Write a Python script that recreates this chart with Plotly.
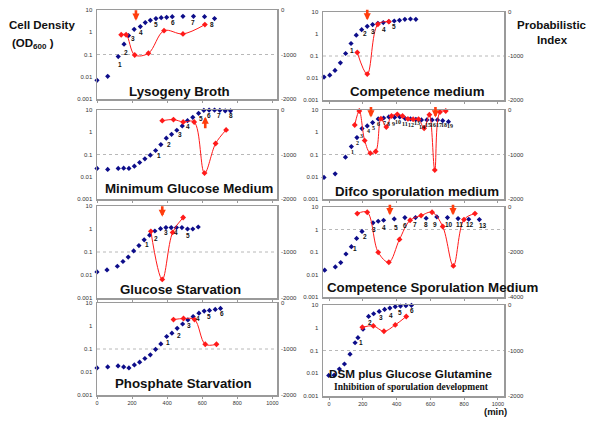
import math
import plotly.graph_objects as go

SANS = "Arial, 'Liberation Sans', Helvetica, sans-serif"
SERIF = "'Times New Roman', 'Liberation Serif', serif"
BLUE = "#0d0d8a"
RED = "#ff1a1a"
ARROW = "#ff3d0d"
BOX = "#9a9a9a"
TXT = "#333333"
W, H = 600, 425

# ---------------- data ----------------
# Lysogeny Broth
lb_t = [0, 61, 121, 154, 180, 212, 247, 275, 304, 336, 366, 397, 429, 490, 550, 613, 670]
lb_od = [0.0069, 0.0104, 0.081, 0.29, 0.71, 1.36, 1.79, 2.71, 3.45, 4.1, 4.5, 4.7, 5.0, 5.2, 5.2, 5.0, 4.1]
lb_pi_t = [138, 166, 215, 293, 382, 490, 615]
lb_pi = [-555, -555, -1011, -973, -465, -537, -328]
lb_lab_t = [129, 167, 207, 249, 334, 436, 550, 657]
lb_lab_od = [0.037, 0.123, 0.52, 1.0, 2.13, 2.7, 2.8, 2.13]
lb_arrow_t = [222]
lb_arrow_od = [3.3]

# Competence medium
cm_t = [-30, 4, 35, 67, 98, 130, 161, 193, 226, 258, 289, 321, 354, 386, 417, 449, 482, 514]
cm_od = [0.011, 0.0135, 0.022, 0.049, 0.13, 0.37, 0.88, 1.58, 2.24, 2.67, 3.07, 3.29, 3.65, 3.9, 4.2, 4.65, 4.8, 4.65]
cm_pi_t = [167, 226, 289, 354]
cm_pi = [-921, -1411, -279, -219]
cm_lab_t = [138, 211, 262, 325, 382]
cm_lab_od = [0.18, 1.04, 1.24, 1.64, 2.1]
cm_arrow_t = [226]
cm_arrow_od = [4.2]

# Minimum Glucose Medium
mgm_t = [0, 61, 121, 152, 182, 213, 243, 273, 304, 334, 364, 395, 425, 455, 486, 516, 546, 579, 609, 639, 670, 700, 731, 761]
mgm_od = [0.0236, 0.0213, 0.0236, 0.0244, 0.0236, 0.030, 0.0438, 0.064, 0.093, 0.151, 0.28, 0.54, 0.81, 1.23,
          1.92, 3.33, 4.7, 7.1, 9.7, 9.9, 9.9, 9.7, 9.2, 9.2]
mgm_pi_t = [372, 436, 491, 554, 613, 676, 736]
mgm_pi = [-239, -216, -269, -269, -1418, -754, -448]
mgm_lab_t = [353, 408, 474, 520, 590, 641, 696, 765]
mgm_lab_od = [0.087, 0.29, 0.81, 1.9, 4.0, 5.4, 5.4, 5.4]
mgm_arrow_t = [617]
mgm_arrow_od = [5.0]

# Difco sporulation medium
dif_t = [-30, 36, 97, 132, 165, 195, 226, 258, 291, 323, 354, 388, 419, 451, 482, 514, 547, 579, 610, 642, 673, 707]
dif_od = [0.0093, 0.0136, 0.076, 0.228, 0.577, 1.46, 1.92, 2.71, 3.96, 4.38, 4.86, 4.7, 4.86, 4.1, 3.96, 3.82,
          3.57, 3.57, 3.57, 3.57, 3.33, 3.0]
dif_pi_t = [152, 179, 211, 244, 276, 307, 339, 370, 404, 435, 467, 498, 530, 563, 594, 626, 657, 691]
dif_pi = [-336, -22, -687, -970, -933, -194, -381, -134, -97, -134, -201, -209, -209, -410, -104, -1351, -45, -22]
dif_lab_t = [138, 167, 193, 236, 264, 293, 327, 350, 382, 411, 449, 484, 518, 551, 587, 618, 652, 683, 719]
dif_lab_od = [0.127, 0.344, 0.71, 1.15, 1.5, 2.28, 2.7, 2.44, 2.44, 2.8, 2.36, 2.2, 2.53, 1.8, 2.06, 2.06, 2.2, 2.2, 1.86]
dif_arrow_t = [248, 630]
dif_arrow_od = [4.6, 4.6]

# Glucose Starvation
gs_t = [0, 57, 116, 148, 178, 209, 239, 269, 300, 330, 362, 393, 423, 453, 484, 516, 546, 577]
gs_od = [0.0136, 0.0166, 0.024, 0.0387, 0.060, 0.111, 0.19, 0.34, 0.54, 0.82, 1.03, 1.15, 1.15, 1.15, 1.15, 1.0, 1.0, 1.22]
gs_pi_t = [307, 372, 431, 491]
gs_pi = [-551, -1596, -574, -250]
gs_lab_t = [285, 338, 395, 450, 520]
gs_lab_od = [0.21, 0.40, 0.69, 0.67, 0.52]
gs_arrow_t = [372]
gs_arrow_od = [3.4]

# Competence Sporulation Medium
csm_t = [-26, 37, 69, 100, 132, 163, 195, 260, 291, 323, 386, 449, 512, 575, 638, 701, 764, 827, 890]
csm_od = [0.0155, 0.0218, 0.0339, 0.0816, 0.172, 0.40, 0.82, 1.97, 2.33, 2.58, 2.96, 3.39, 3.39, 3.16, 3.62, 3.39,
          3.05, 2.86, 2.76]
csm_pi_t = [167, 226, 291, 354, 417, 480, 545, 610, 673, 736, 799, 864]
csm_pi = [-294, -235, -2015, -2456, -1441, -588, -382, -235, -868, -2618, -559, -294]
csm_lab_t = [154, 211, 266, 325, 394, 451, 510, 575, 630, 711, 772, 837, 913]
csm_lab_od = [0.14, 0.51, 1.03, 1.22, 1.22, 1.55, 1.66, 1.66, 1.66, 1.66, 1.66, 1.72, 1.45]
csm_arrow_t = [360, 734]
csm_arrow_od = [4.3, 4.3]

# Phosphate Starvation
ps_t = [0, 61, 120, 152, 182, 213, 243, 273, 304, 334, 364, 397, 427, 457, 488, 518, 548, 581, 611, 641, 674, 704]
ps_od = [0.015, 0.0166, 0.0184, 0.0166, 0.015, 0.0204, 0.0267, 0.0387, 0.056, 0.097, 0.166, 0.35, 0.49, 0.79,
         1.22, 1.84, 2.58, 3.62, 4.44, 4.74, 5.26, 5.82]
ps_pi_t = [436, 493, 556, 617, 681]
ps_pi = [-360, -338, -360, -897, -897]
ps_lab_t = [402, 465, 522, 577, 641, 710]
ps_lab_od = [0.19, 0.40, 1.1, 2.2, 2.67, 3.6]

# DSM plus Glucose Glutamine
dsm_t = [-37, -2, 30, 61, 91, 124, 154, 171, 201, 234, 264, 297, 329, 360, 392, 423, 455, 488]
dsm_od = [0.0059, 0.008, 0.0082, 0.0153, 0.0255, 0.0687, 0.219, 0.366, 0.857, 3.14, 4.12, 5.23, 6.42, 7.36,
          8.43, 9.0, 9.34, 9.67]
dsm_pi_t = [197, 262, 325, 392, 457]
dsm_pi = [-489, -459, -578, -437, -252]
dsm_lab_t = [187, 240, 309, 364, 419, 492]
dsm_lab_od = [0.234, 1.75, 2.83, 3.6, 4.56, 5.8]

od_ticks = [10, 1, 0.1, 0.01, 0.001]
od_tick_text = ["10", "1", "0.1", "0.01", "0.001"]
time_ticks = [0, 200, 400, 600, 800, 1000]

# ---------------- panels (layout config) ----------------
LEFT_X = (97, 277)
RIGHT_X = (323, 504)
panels = [
    dict(title="Lysogeny Broth", col=0, box=(10, 99), tpos=(179, 91), bottom=False,
         t=lb_t, od=lb_od, pt=lb_pi_t, pi=lb_pi, lt=lb_lab_t, lod=lb_lab_od,
         at=lb_arrow_t, aod=lb_arrow_od, adir=-1, pirange=[-2000, 0], piticks=[0, -1000, -2000], serif=False),
    dict(title="Competence medium", col=1, box=(12, 100), tpos=(417, 91), bottom=False,
         t=cm_t, od=cm_od, pt=cm_pi_t, pi=cm_pi, lt=cm_lab_t, lod=cm_lab_od,
         at=cm_arrow_t, aod=cm_arrow_od, adir=-1, pirange=[-2000, 0], piticks=[0, -1000, -2000], serif=False),
    dict(title="Minimum Glucose Medium", col=0, box=(110, 199), tpos=(189, 188), bottom=False,
         t=mgm_t, od=mgm_od, pt=mgm_pi_t, pi=mgm_pi, lt=mgm_lab_t, lod=mgm_lab_od,
         at=mgm_arrow_t, aod=mgm_arrow_od, adir=1, pirange=[-2000, 0], piticks=[0, -1000, -2000], serif=False),
    dict(title="Difco sporulation medium", col=1, box=(110, 199), tpos=(417, 191), bottom=False,
         t=dif_t, od=dif_od, pt=dif_pi_t, pi=dif_pi, lt=dif_lab_t, lod=dif_lab_od,
         at=dif_arrow_t, aod=dif_arrow_od, adir=-1, pirange=[-2000, 0], piticks=[0, -1000, -2000], serif=True),
    dict(title="Glucose Starvation", col=0, box=(206, 298), tpos=(180, 289), bottom=False,
         t=gs_t, od=gs_od, pt=gs_pi_t, pi=gs_pi, lt=gs_lab_t, lod=gs_lab_od,
         at=gs_arrow_t, aod=gs_arrow_od, adir=-1, pirange=[-2000, 0], piticks=[-1000, -2000], serif=False),
    dict(title="Competence Sporulation Medium", col=1, box=(207, 297), tpos=(432, 287), bottom=False,
         t=csm_t, od=csm_od, pt=csm_pi_t, pi=csm_pi, lt=csm_lab_t, lod=csm_lab_od,
         at=csm_arrow_t, aod=csm_arrow_od, adir=-1, pirange=[-4000, 0], piticks=[0, -2000, -4000], serif=False),
    dict(title="Phosphate Starvation", col=0, box=(303, 395), tpos=(183, 383), bottom=True,
         t=ps_t, od=ps_od, pt=ps_pi_t, pi=ps_pi, lt=ps_lab_t, lod=ps_lab_od,
         at=[], aod=[], adir=-1, pirange=[-2000, 0], piticks=[0, -1000, -2000], serif=False),
    dict(title="DSM plus Glucose Glutamine", col=1, box=(305, 396), tpos=(411, 373), bottom=True,
         t=dsm_t, od=dsm_od, pt=dsm_pi_t, pi=dsm_pi, lt=dsm_lab_t, lod=dsm_lab_od,
         at=[], aod=[], adir=-1, pirange=[-2000, 0], piticks=[0, -1000, -2000], serif=False,
         tsize=11.7),
]

fig = go.Figure()
layout = dict(
    width=W, height=H, margin=dict(l=0, r=0, t=0, b=0),
    paper_bgcolor="white", plot_bgcolor="white", showlegend=False, hovermode=False,
    font=dict(family=SANS, color=TXT),
)
annotations = []
shapes = []


def px_x(x):
    return x / W


def px_y(y):
    return 1 - y / H


for i, p in enumerate(panels):
    n = i + 1
    xname = "x" if n == 1 else f"x{n}"
    ylname = "y" if n == 1 else f"y{2 * n - 1}"
    yrname = f"y{2 * n}"
    xkey = "xaxis" if n == 1 else f"xaxis{n}"
    ylkey = "yaxis" if n == 1 else f"yaxis{2 * n - 1}"
    yrkey = f"yaxis{2 * n}"

    cx = LEFT_X if p["col"] == 0 else RIGHT_X
    xrange = [0, 1026] if p["col"] == 0 else [-36, 1036]
    xdom = [px_x(cx[0]), px_x(cx[1])]
    ydom = [px_y(p["box"][1]), px_y(p["box"][0])]

    layout[xkey] = dict(domain=xdom, range=xrange, anchor=ylname, showline=True, mirror=True,
                        linecolor=BOX, linewidth=1.5, ticks="outside", ticklen=2, tickcolor=BOX,
                        tickvals=time_ticks, showticklabels=p["bottom"], showgrid=False, zeroline=False,
                        tickfont=dict(size=5.5, color=TXT), automargin=False, fixedrange=True)
    layout[ylkey] = dict(domain=ydom, type="log", range=[-3, 1], anchor=xname, showline=True, mirror=True,
                         linecolor=BOX, linewidth=1.5, tickvals=od_ticks, ticktext=od_tick_text,
                         ticks="", showgrid=False, zeroline=False, tickfont=dict(size=6, color=TXT),
                         automargin=False, ticklabelstandoff=2, fixedrange=True)
    layout[yrkey] = dict(overlaying=ylname, side="right", anchor=xname, range=p["pirange"],
                         tickvals=p["piticks"], ticktext=[str(v) for v in p["piticks"]],
                         showgrid=False, zeroline=False, showline=False, ticks="",
                         tickfont=dict(size=6, color=TXT), automargin=False, ticklabelstandoff=3,
                         fixedrange=True)

    # dashed reference line at index -1000
    shapes.append(dict(type="line", xref=f"{xname} domain", yref=yrname, x0=0, x1=1, y0=-1000, y1=-1000,
                       line=dict(color="#b8b8b8", width=1, dash="dot"), layer="below"))

    # cell density (blue)
    fig.add_trace(go.Scatter(x=p["t"], y=p["od"], xaxis=xname, yaxis=ylname, mode="markers",
                             marker=dict(symbol="diamond", size=4, color=BLUE), cliponaxis=False,
                             hoverinfo="skip"))
    # probabilistic index (red)
    fig.add_trace(go.Scatter(x=p["pt"], y=p["pi"], xaxis=xname, yaxis=yrname, mode="lines+markers",
                             line=dict(color=RED, width=1, shape="spline", smoothing=1.0),
                             marker=dict(symbol="diamond", size=4.5, color=RED), cliponaxis=False,
                             hoverinfo="skip"))

    # point numbers
    for k, (lt, lod) in enumerate(zip(p["lt"], p["lod"])):
        annotations.append(dict(x=lt, y=math.log10(lod), xref=xname, yref=ylname, text=str(k + 1),
                                showarrow=False, xanchor="center", yanchor="middle",
                                font=dict(family=SERIF if p["serif"] else SANS, size=6 if p["serif"] else 6.5,
                                          color="#111111", weight="bold")))
    # arrows
    for at, aod in zip(p["at"], p["aod"]):
        annotations.append(dict(x=at, y=math.log10(aod), xref=xname, yref=ylname, text="",
                                showarrow=True, ax=0, ay=(13 if p["adir"] > 0 else -12),
                                arrowhead=2, arrowsize=0.55, arrowwidth=2.6, arrowcolor=ARROW, standoff=0))
    # panel title
    annotations.append(dict(x=px_x(p["tpos"][0]), y=px_y(p["tpos"][1]), xref="paper", yref="paper",
                            text=p["title"], showarrow=False, xanchor="center", yanchor="middle",
                            font=dict(family=SANS, size=p.get("tsize", 13.3), color="#111111", weight="bold")))

# extra texts
annotations.append(dict(x=px_x(411), y=px_y(387), xref="paper", yref="paper",
                        text="Inhibition of sporulation development", showarrow=False,
                        xanchor="center", yanchor="middle",
                        font=dict(family=SERIF, size=9.5, color="#111111", weight="bold")))
annotations.append(dict(x=px_x(42), y=px_y(25), xref="paper", yref="paper", text="Cell Density",
                        showarrow=False, xanchor="center", yanchor="middle",
                        font=dict(family=SANS, size=11.5, color="#111111", weight="bold")))
annotations.append(dict(x=px_x(10), y=px_y(44), xref="paper", yref="paper", text="(OD<sub>600</sub> )",
                        showarrow=False, xanchor="left", yanchor="middle",
                        font=dict(family=SANS, size=11.5, color="#111111", weight="bold")))
annotations.append(dict(x=px_x(552), y=px_y(25), xref="paper", yref="paper", text="Probabilistic",
                        showarrow=False, xanchor="center", yanchor="middle",
                        font=dict(family=SANS, size=11.5, color="#111111", weight="bold")))
annotations.append(dict(x=px_x(552), y=px_y(40), xref="paper", yref="paper", text="Index",
                        showarrow=False, xanchor="center", yanchor="middle",
                        font=dict(family=SANS, size=11.5, color="#111111", weight="bold")))
annotations.append(dict(x=px_x(495), y=px_y(411), xref="paper", yref="paper", text="(min)",
                        showarrow=False, xanchor="center", yanchor="middle",
                        font=dict(family=SANS, size=9.5, color="#111111", weight="bold")))

layout["annotations"] = annotations
layout["shapes"] = shapes
fig.update_layout(**layout)
fig.write_html("out.html", config={"displayModeBar": False, "staticPlot": True},
               post_script="document.body.style.margin='0px';document.body.style.padding='0px';")
